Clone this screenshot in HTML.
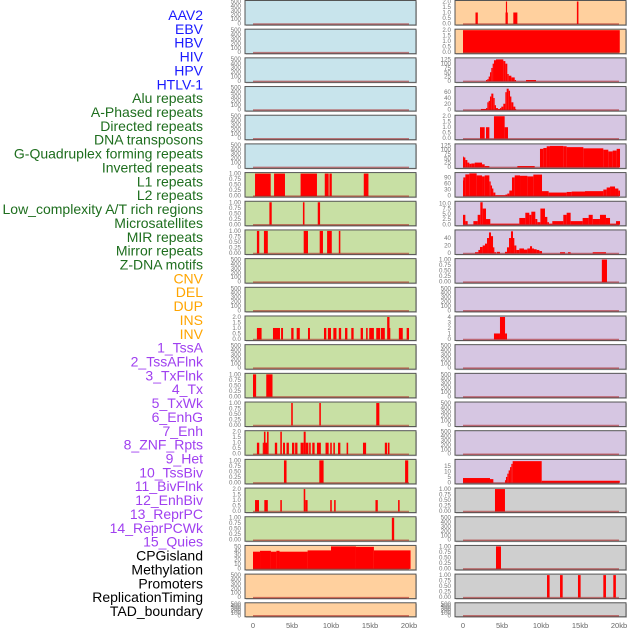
<!DOCTYPE html>
<html><head><meta charset="utf-8"><style>
html,body{margin:0;padding:0;background:#fff;}
svg{display:block;font-family:"Liberation Sans",sans-serif;}
</style></head><body>
<svg id="chart" width="630" height="630" viewBox="0 0 630 630"></svg>
<script>
const labels = ["AAV2","EBV","HBV","HIV","HPV","HTLV-1","Alu repeats","A-Phased repeats","Directed repeats","DNA transposons","G-Quadruplex forming repeats","Inverted repeats","L1 repeats","L2 repeats","Low_complexity A/T rich regions","Microsatellites","MIR repeats","Mirror repeats","Z-DNA motifs","CNV","DEL","DUP","INS","INV","1_TssA","2_TssAFlnk","3_TxFlnk","4_Tx","5_TxWk","6_EnhG","7_Enh","8_ZNF_Rpts","9_Het","10_TssBiv","11_BivFlnk","12_EnhBiv","13_ReprPC","14_ReprPCWk","15_Quies","CPGisland","Methylation","Promoters","ReplicationTiming","TAD_boundary"];
const labelColors = ["#1a1aff","#1a1aff","#1a1aff","#1a1aff","#1a1aff","#1a1aff","#1e6e1e","#1e6e1e","#1e6e1e","#1e6e1e","#1e6e1e","#1e6e1e","#1e6e1e","#1e6e1e","#1e6e1e","#1e6e1e","#1e6e1e","#1e6e1e","#1e6e1e","#ffa500","#ffa500","#ffa500","#ffa500","#ffa500","#a040f0","#a040f0","#a040f0","#a040f0","#a040f0","#a040f0","#a040f0","#a040f0","#a040f0","#a040f0","#a040f0","#a040f0","#a040f0","#a040f0","#a040f0","#000","#000","#000","#000","#000"];
const xTicks = [0,5,10,15,20];
const xTickLabels = ["0","5kb","10kb","15kb","20kb"];
const T500=[0,100,200,300,400,500], TF=[0,0.25,0.5,0.75,1], T2=[0,0.5,1,1.5,2];
// left column panels: [segments [startKb,endKb,value]], ymax, ticks, bg
const leftSegs = [
 [],[],[],[],[],[],
 [[0.26,2.27,1],[2.7,4.1,1],[6.1,8.2,1],[9.2,9.7,1],[9.8,10.1,1],[14.2,14.8,1]],
 [[2.1,2.4,1],[6.4,6.6,1],[8.3,8.6,1]],
 [[0.5,0.8,1],[1.4,1.9,1],[6.5,7.05,1],[8.55,8.97,1],[9.5,10.1,1],[11.0,11.2,1]],
 [],[],
 [[0.5,1.1,1],[2.56,3.46,1],[3.6,3.85,1],[4.9,5.2,1],[5.6,6.0,1],[7.05,7.3,1],[9.1,9.4,1],[9.6,10.0,1],[10.3,10.7,1],[11.0,11.3,1],[11.8,12.1,1],[12.6,12.9,1],[13.8,14.1,1],[14.5,14.7,1],[14.9,15.5,1],[15.8,16.3,1],[16.4,16.9,1],[17.2,17.5,2],[17.5,17.6,1],[18.7,19.2,1],[19.7,20.0,1]],
 [],
 [[0,0.4,1],[1.7,2.5,1]],
 [[4.9,5.1,1],[8.5,8.7,1],[15.8,16.2,1]],
 [[0.5,0.8,1],[1.25,1.4,1],[1.4,1.6,2],[1.6,1.8,1],[1.8,2.0,2],[2.8,3.1,1],[3.5,3.7,2],[3.85,4.1,1],[4.3,4.6,1],[5.0,5.3,1],[5.4,5.7,1],[6.1,6.5,1],[6.5,6.75,2],[6.75,7.1,1],[7.2,7.4,1],[7.6,7.9,1],[8.2,8.7,1],[9.3,9.7,1],[9.9,10.1,1],[10.3,10.5,1],[10.9,11.2,1],[12.0,12.2,1],[14.1,14.5,1],[16.9,17.2,1],[17.3,17.5,1]],
 [[3.97,4.3,1],[8.5,9.05,1],[19.5,19.9,1]],
 [[0.26,0.77,1],[1.45,1.9,1],[3.5,3.7,1],[6.5,6.7,2],[6.7,7.0,1],[9.9,10.1,1],[10.4,10.6,1],[15.7,16.0,1],[18.6,18.8,1]],
 [[17.8,18.1,1]],
 [[0,0.9,38],[0.9,2.3,40],[2.3,3.0,38],[3.0,3.4,40],[3.4,7.0,38],[7.0,10.0,41],[10.0,13.2,50],[13.2,15.5,49],[15.5,20.2,41]],
 [],[]
];
const leftMax = [500,500,500,500,500,500,1,1,1,500,500,2,500,1,1,2,1,2,1,50,500,500];
const leftTicks = [T500,T500,T500,T500,T500,T500,TF,TF,TF,T500,T500,T2,T500,TF,TF,T2,TF,T2,TF,[0,10,20,30,40,50],T500,T500];
const leftBg = ["#c8e4ec","#c8e4ec","#c8e4ec","#c8e4ec","#c8e4ec","#c8e4ec","#c8e0a4","#c8e0a4","#c8e0a4","#c8e0a4","#c8e0a4","#c8e0a4","#c8e0a4","#c8e0a4","#c8e0a4","#c8e0a4","#c8e0a4","#c8e0a4","#c8e0a4","#ffd09e","#ffd09e","#ffd09e"];
const rightSegs = [
 [[1.6,1.9,1],[5.45,5.5,1],[5.5,5.65,2],[5.65,5.7,1],[6.45,6.97,1],[14.6,14.8,2]],
 [[0,20.1,2]],
 [[2.95,3.12,5],[3.12,3.29,10],[3.29,3.46,25],[3.46,3.63,50],[3.63,3.8,75],[3.8,3.97,100],[3.97,4.23,120],[4.23,5.17,125],[5.17,5.43,115],[5.43,5.68,100],[5.68,5.86,40],[5.86,6.2,30],[6.2,6.63,20],[6.63,6.8,5],[8.08,9.36,5]],
 [[2.3,2.95,2],[2.95,3.12,5],[3.12,3.29,25],[3.29,3.46,30],[3.46,3.63,45],[3.63,3.89,55],[3.89,4.06,40],[4.06,4.23,15],[4.23,4.49,5],[4.49,4.74,2],[4.74,4.91,5],[4.91,5.17,10],[5.17,5.43,20],[5.43,5.6,60],[5.6,5.86,72],[5.86,6.03,65],[6.03,6.2,45],[6.2,6.46,25],[6.46,6.71,10],[6.71,6.8,2]],
 [[2.18,2.78,1],[2.95,3.38,1],[3.97,5.34,2],[5.34,5.77,1]],
 [[0,0.04,60],[0.04,0.3,55],[0.3,0.56,40],[0.56,0.81,25],[0.81,1.07,18],[1.07,1.5,20],[1.5,2.44,25],[2.44,2.78,15],[2.78,3.38,5],[6.97,9.19,5],[9.87,10.3,105],[10.3,10.73,110],[10.73,11.15,120],[11.15,12.86,122],[12.86,13.29,120],[13.29,15.43,115],[15.43,17.99,108],[17.99,18.63,100],[18.63,19.19,90],[19.19,19.7,95],[19.7,20.13,105]],
 [[0,0.04,75],[0.04,0.3,90],[0.3,0.81,105],[0.81,1.75,110],[1.75,2.44,100],[2.44,2.78,95],[2.78,3.38,100],[3.38,3.55,70],[3.55,3.72,50],[3.72,3.89,35],[3.89,4.15,15],[4.15,5.43,2],[5.43,5.68,5],[5.68,5.94,10],[5.94,6.28,25],[6.28,6.63,90],[6.63,7.31,100],[7.31,8.25,98],[8.25,9.02,95],[9.02,10.13,104],[10.13,10.98,22],[10.98,13.29,15],[13.29,13.93,18],[13.93,15.64,20],[15.64,17.99,22],[17.99,18.42,30],[18.42,18.85,40],[18.85,19.49,45],[19.49,19.92,35],[19.92,20.13,25]],
 [[0,0.3,4.5],[0.3,0.6,1.5],[1.33,1.88,1.5],[1.88,2.22,4.5],[2.22,2.52,10.5],[2.52,2.95,7.5],[2.95,3.5,2.5],[3.5,7.22,0.3],[7.22,7.99,3],[7.99,8.5,5.5],[8.5,8.76,4.5],[8.76,9.27,6],[9.27,9.53,2.5],[9.53,9.92,1],[9.92,10.51,7.5],[10.51,10.81,3.5],[10.81,11.02,1],[11.02,11.45,0.3],[11.45,12.86,1.5],[12.86,13.29,4.5],[13.29,13.8,5.5],[13.8,15.34,1.5],[15.34,16.11,3],[16.11,16.63,4.5],[16.63,17.56,2.5],[17.56,18.33,4.5],[18.33,18.85,3],[18.85,19.62,0.3],[19.62,20.13,1.5]],
 [[1.54,1.97,2],[1.97,2.18,8],[2.18,2.52,16],[2.52,2.82,20],[2.82,3.08,25],[3.08,3.33,40],[3.33,3.59,55],[3.59,3.85,45],[3.85,4.02,15],[4.02,4.23,2],[4.32,4.74,3],[5.38,5.64,3],[5.64,5.9,15],[5.9,6.15,40],[6.15,6.41,58],[6.41,6.58,40],[6.58,6.84,20],[6.84,7.22,8],[7.22,7.82,12],[7.82,8.25,9],[8.25,8.59,12],[8.59,8.85,18],[8.85,9.1,12],[9.1,9.44,10],[9.44,9.79,8],[9.79,10.13,5],[12.44,13.08,2],[13.46,13.8,2],[16.63,18.33,2]],
 [[17.8,18.46,1]],
 [],
 [[3.97,4.74,1],[4.74,5.39,4],[5.39,5.64,1]],
 [],[],[],[],
 [[0,3.46,4],[3.46,3.89,3],[5.38,5.51,2],[5.51,5.68,5],[5.68,5.85,8],[5.85,6.03,11],[6.03,6.2,14],[6.2,6.37,17],[6.37,10.09,19.5],[10.09,20.1,1.5]],
 [[4.1,5.38,1]],
 [],
 [[4.23,4.87,1]],
 [[10.77,11.1,1],[12.44,12.78,1],[14.74,15.08,1],[17.99,18.33,1],[19.27,19.6,1]],
 []
];
const rightMax = [2,2,128,76,2,128,109,10.5,59,1,500,4,500,500,500,500,20.2,1,500,1,1,500];
const rightTicks = [T2,T2,[0,25,50,75,100,125],[0,20,40,60],T2,[0,25,50,75,100,125],[0,30,60,90],[0,2.5,5,7.5,10],[0,20,40],TF,T500,[0,1,2,3,4],T500,T500,T500,T500,[0,5,10,15],TF,T500,TF,TF,T500];
const rightBg = ["#ffd09e","#ffd09e","#d6c6e2","#d6c6e2","#d6c6e2","#d6c6e2","#d6c6e2","#d6c6e2","#d6c6e2","#d6c6e2","#d6c6e2","#d6c6e2","#d6c6e2","#d6c6e2","#d6c6e2","#d6c6e2","#d6c6e2","#cfcfcf","#cfcfcf","#cfcfcf","#cfcfcf","#cfcfcf"];

const NS="http://www.w3.org/2000/svg";
const svg=document.getElementById('chart');
function mk(tag,attrs,parent){const e=document.createElementNS(NS,tag);for(const k in attrs)e.setAttribute(k,attrs[k]);(parent||svg).appendChild(e);return e;}
const PITCH=28.68, PH=24.5;
function fmt(t,ticks){const f=ticks.some(v=>v%1!==0);if(!f)return String(t);const two=ticks.some(v=>Math.round(v*100)%50!==0&&v%1!==0);return two?t.toFixed(2):t.toFixed(1);}
function drawCol(x0,x1,segs,maxs,ticks,bgs,col){
  const xs=kb=>x0+8+kb*7.8;
  for(let i=0;i<segs.length;i++){
    const top=0.5+i*PITCH, h=(i===segs.length-1)?14:PH, bot=top+h;
    const g=mk('g',{});
    
    
    mk('rect',{x:x0+1,y:top+1,width:x1-x0,height:h,fill:'#999',opacity:0.5},g);
    mk('rect',{x:x0,y:top,width:x1-x0,height:h,fill:bgs[i],stroke:'#555','stroke-width':1},g);
    const ys=v=>bot-1.5-(v/maxs[i])*(h-2.5);
    segs[i].forEach(s=>{
      const r=mk('rect',{x:xs(s[0]),y:ys(s[2]),width:Math.max(0.8,xs(s[1])-xs(s[0])),height:bot-1.5-ys(s[2])+0.5,fill:'#ff0000'},g);
      
      
    });
    mk('line',{x1:xs(0),x2:xs(20),y1:bot-1,y2:bot-1,stroke:'rgba(170,30,30,0.55)','stroke-width':1.5},g);
    ticks[i].forEach(t=>{
      const tx=mk('text',{x:x0-4,y:ys(t)+2,'font-size':6.2,fill:'#777','text-anchor':'end'},g);
      tx.textContent=fmt(t,ticks[i]);
    });
  }
  xTicks.forEach((t,j)=>{
    const tx=mk('text',{x:xs(t),y:628,'font-size':7.5,fill:'#666','text-anchor':'middle'});
    
    
    tx.textContent=xTickLabels[j];
  });
}
drawCol(245,416,leftSegs,leftMax,leftTicks,leftBg,'left');
drawCol(455,626,rightSegs,rightMax,rightTicks,rightBg,'right');
labels.forEach((l,i)=>{
  const t=mk('text',{x:203,y:20+i*13.86,'font-size':14,fill:labelColors[i],'text-anchor':'end'});
  
  
  t.textContent=l;
});
</script>
</body></html>
